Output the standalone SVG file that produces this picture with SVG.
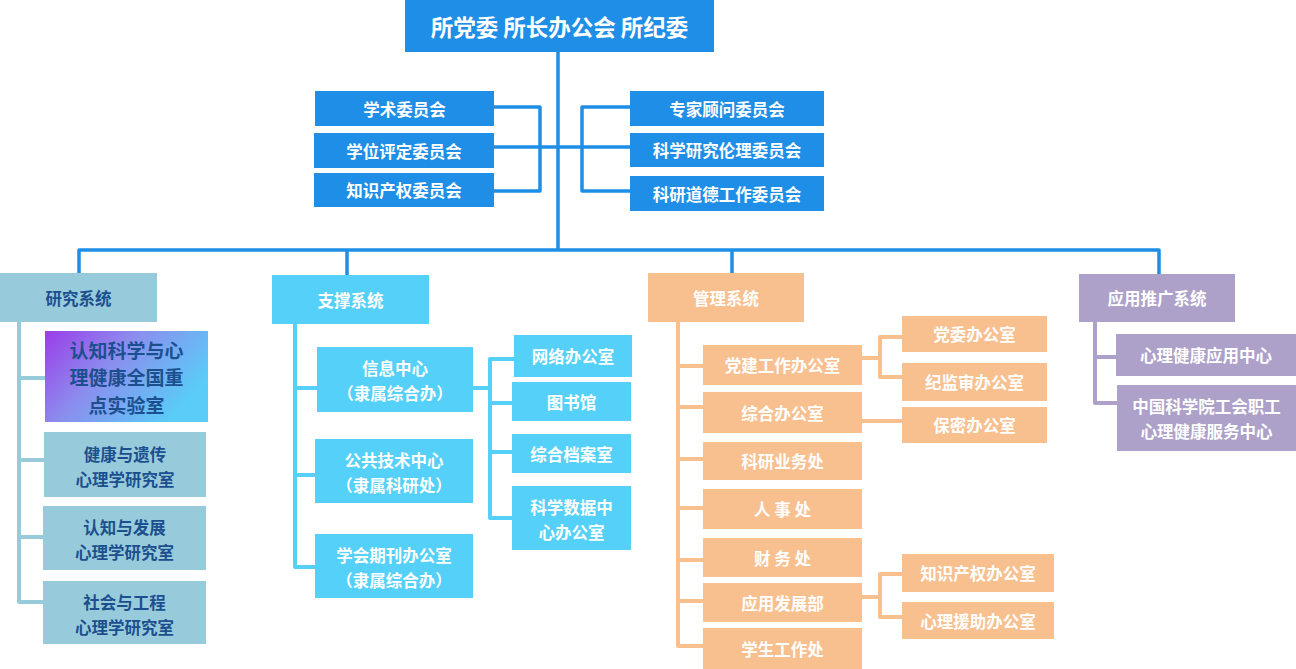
<svg xmlns="http://www.w3.org/2000/svg" width="1296" height="669" viewBox="0 0 1296 669">
<defs>
<linearGradient id="labGrad" x1="0" y1="0" x2="1" y2="0.5">
<stop offset="0" stop-color="#9B3CE9"/>
<stop offset="0.45" stop-color="#8C8CEE"/>
<stop offset="1" stop-color="#5ACCF7"/>
</linearGradient>
<style>
text{font-family:"Noto Sans CJK SC","Microsoft YaHei",sans-serif;font-weight:bold;text-anchor:middle;dominant-baseline:central;font-size:16.5px;fill:#fff}
.blue{fill:#1E8EE6}
.res{fill:#97CBDB}
.sup{fill:#55D1F9}
.mgt{fill:#F9C08F}
.app{fill:#ADA1C9}
.dk{fill:#1C4F8E}
.lab{font-size:19px}
.ln{fill:none;stroke-linejoin:round;stroke-linecap:butt}
.lb{stroke:#1E8EE6;stroke-width:3.5}
.lr{stroke:#97CBDB;stroke-width:4}
.ls{stroke:#55D1F9;stroke-width:4}
.lm{stroke:#F9C08F;stroke-width:4}
.la{stroke:#ADA1C9;stroke-width:4}
</style>
</defs>
<rect width="1296" height="669" fill="#fff"/>
<g id="connectors">
<path class="ln lb" d="M558,52 V250"/>
<path class="ln lb" d="M79,273 V250 H1159 V274"/>
<path class="ln lb" d="M347,250 V275 M732,250 V273"/>
<path class="ln lb" d="M494,107 H540 V191 H494"/>
<path class="ln lb" d="M494,147 H630"/>
<path class="ln lb" d="M630,107 H582 V191 H630"/>
<path class="ln lr" d="M19,322 V602 H43 M19,378 H45 M19,460 H44 M19,537 H43"/>
<path class="ln ls" d="M295,324 V567 H315 M295,388 H317 M295,475 H315"/>
<path class="ln ls" d="M473,388 H490 M514,359 H490 V518 H512 M490,403 H512 M490,452 H512"/>
<path class="ln lm" d="M678,322 V646 H703 M678,366 H703 M678,407 H703 M678,459 H703 M678,508 H703 M678,560 H703 M678,601 H703"/>
<path class="ln lm" d="M862,358 H880 M902,337 H880 V377 H902 M862,421 H902 M862,597 H880 M902,574 H880 V617 H902"/>
<path class="ln la" d="M1095,322 V403 H1117 M1095,357 H1116"/>
</g>
<g id="top"><rect class="blue" x="405" y="0" width="309" height="52"/><text x="559.5" y="26" style="font-size:22.5px">所党委 所长办公会 所纪委</text></g>
<g id="xueshu"><rect class="blue" x="315" y="91" width="179" height="35"/><text x="404.5" y="108.5">学术委员会</text></g>
<g id="xuewei"><rect class="blue" x="314" y="133" width="180" height="35"/><text x="404" y="150.5">学位评定委员会</text></g>
<g id="zhishi"><rect class="blue" x="314" y="173" width="180" height="34"/><text x="404" y="190">知识产权委员会</text></g>
<g id="zhuanjia"><rect class="blue" x="630" y="91" width="194" height="35"/><text x="727" y="108.5">专家顾问委员会</text></g>
<g id="lunli"><rect class="blue" x="630" y="133" width="194" height="34"/><text x="727" y="150">科学研究伦理委员会</text></g>
<g id="daode"><rect class="blue" x="630" y="176" width="194" height="35"/><text x="727" y="193.5">科研道德工作委员会</text></g>

<g id="yanjiu"><rect class="res" x="0" y="273" width="157" height="49"/><text class="dk" x="78.5" y="297.5">研究系统</text></g>
<g id="lab"><rect fill="url(#labGrad)" x="45" y="331" width="163" height="91"/><text class="dk lab" x="126.5" y="349">认知科学与心</text><text class="dk lab" x="126.5" y="376.5">理健康全国重</text><text class="dk lab" x="126.5" y="404">点实验室</text></g>
<g id="jiankang"><rect class="res" x="44" y="432" width="162" height="65"/><text class="dk" x="125" y="454">健康与遗传</text><text class="dk" x="125" y="479">心理学研究室</text></g>
<g id="renzhi"><rect class="res" x="43" y="506" width="163" height="64"/><text class="dk" x="124.5" y="527">认知与发展</text><text class="dk" x="124.5" y="552">心理学研究室</text></g>
<g id="shehui"><rect class="res" x="43" y="581" width="163" height="63"/><text class="dk" x="124.5" y="602">社会与工程</text><text class="dk" x="124.5" y="627">心理学研究室</text></g>

<g id="zhicheng"><rect class="sup" x="272" y="275" width="157" height="49"/><text x="350.5" y="299.5">支撑系统</text></g>
<g id="xinxi"><rect class="sup" x="317" y="347" width="156" height="65"/><text x="395" y="368">信息中心</text><text x="395" y="393">（隶属综合办）</text></g>
<g id="gonggong"><rect class="sup" x="315" y="439" width="158" height="64"/><text x="394" y="460">公共技术中心</text><text x="394" y="485">（隶属科研处）</text></g>
<g id="qikan"><rect class="sup" x="315" y="534" width="158" height="64"/><text x="394" y="555">学会期刊办公室</text><text x="394" y="580">（隶属综合办）</text></g>
<g id="wangluo"><rect class="sup" x="514" y="335" width="118" height="42"/><text x="573" y="356">网络办公室</text></g>
<g id="tushu"><rect class="sup" x="512" y="382" width="119" height="39"/><text x="571.5" y="401.5">图书馆</text></g>
<g id="dangan"><rect class="sup" x="512" y="434" width="119" height="39"/><text x="571.5" y="453.5">综合档案室</text></g>
<g id="shuju"><rect class="sup" x="512" y="486" width="119" height="64"/><text x="571.5" y="507">科学数据中</text><text x="571.5" y="532">心办公室</text></g>

<g id="guanli"><rect class="mgt" x="648" y="273" width="156" height="49"/><text x="726" y="297.5">管理系统</text></g>
<g id="dangjian"><rect class="mgt" x="703" y="345" width="159" height="40"/><text x="782.5" y="365">党建工作办公室</text></g>
<g id="zonghe"><rect class="mgt" x="703" y="392" width="159" height="41"/><text x="782.5" y="412.5">综合办公室</text></g>
<g id="keyan"><rect class="mgt" x="703" y="442" width="159" height="38"/><text x="782.5" y="461">科研业务处</text></g>
<g id="renshi"><rect class="mgt" x="703" y="489" width="159" height="40"/><text x="782.5" y="509">人 事 处</text></g>
<g id="caiwu"><rect class="mgt" x="703" y="538" width="159" height="39"/><text x="782.5" y="557.5">财 务 处</text></g>
<g id="yingyong"><rect class="mgt" x="703" y="583" width="159" height="39"/><text x="782.5" y="602.5">应用发展部</text></g>
<g id="xuesheng"><rect class="mgt" x="703" y="628" width="159" height="41"/><text x="782.5" y="648.5">学生工作处</text></g>
<g id="dangwei"><rect class="mgt" x="902" y="316" width="145" height="36"/><text x="974.5" y="334">党委办公室</text></g>
<g id="jijian"><rect class="mgt" x="902" y="363" width="145" height="38"/><text x="974.5" y="382">纪监审办公室</text></g>
<g id="baomi"><rect class="mgt" x="902" y="407" width="145" height="36"/><text x="974.5" y="425">保密办公室</text></g>
<g id="zscq"><rect class="mgt" x="902" y="554" width="152" height="38"/><text x="978" y="573">知识产权办公室</text></g>
<g id="yuanzhu"><rect class="mgt" x="902" y="602" width="152" height="37"/><text x="978" y="620.5">心理援助办公室</text></g>

<g id="tuiguang"><rect class="app" x="1079" y="274" width="156" height="48"/><text x="1157" y="298">应用推广系统</text></g>
<g id="xljk"><rect class="app" x="1116" y="334" width="180" height="42"/><text x="1206" y="355">心理健康应用中心</text></g>
<g id="zgkxy"><rect class="app" x="1117" y="385" width="179" height="66"/><text x="1206.5" y="406">中国科学院工会职工</text><text x="1206.5" y="431">心理健康服务中心</text></g>
</svg>
